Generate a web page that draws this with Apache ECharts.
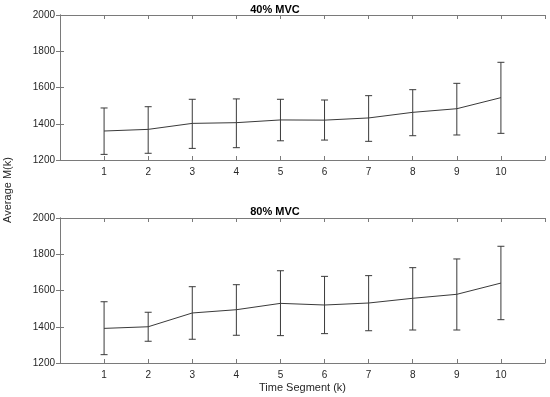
<!DOCTYPE html>
<html><head><meta charset="utf-8">
<script src="https://cdn.jsdelivr.net/npm/echarts@6/dist/echarts.min.js"></script>
<style>html,body{margin:0;padding:0;background:#fff}#c{width:550px;height:397px}</style>
</head><body><div id="c"></div>
<script>
var segments = [1,2,3,4,5,6,7,8,9,10];
var titles = ['40% MVC', '80% MVC'];
var mean40 = [1360,1369,1402,1406,1421,1420,1432,1463,1483,1544];
var upper40 = [1487,1494,1535,1537,1535,1531,1555,1588,1623,1739];
var lower40 = [1231,1237,1264,1268,1306,1310,1303,1334,1338,1347];
var mean80 = [1391,1400,1476,1494,1529,1520,1531,1557,1579,1641];
var upper80 = [1538,1480,1621,1632,1709,1678,1682,1726,1774,1844];
var lower80 = [1246,1320,1331,1353,1351,1362,1378,1382,1382,1439];
var yTicks = [1200,1400,1600,1800,2000];
var xLabel = 'Time Segment (k)';
var yLabel = 'Average M(k)';

var FONT = 'Liberation Sans, Arial, sans-serif';
var AX = '#7a7a7a';
var LINE = '#3a3a3a';
var chart = echarts.init(document.getElementById('c'), null, {renderer:'canvas'});

var grids = [
  {left:60, top:15, width:485, height:145},
  {left:60, top:218, width:485, height:145}
];
var xAxes = [], yAxes = [], series = [];
var means = [mean40, mean80], ups = [upper40, upper80], lows = [lower40, lower80];
grids.forEach(function(g, i){
  xAxes.push({gridIndex:i, type:'value', min:0, max:11, interval:1, position:'bottom',
    axisLine:{show:true, lineStyle:{color:AX, width:1}},
    axisTick:{show:true, inside:true, length:4, lineStyle:{color:AX}},
    axisLabel:{color:'#262626', fontFamily:FONT, fontSize:10, margin:7,
      formatter:function(v){ return (v>=1 && v<=10) ? String(v) : ''; }},
    splitLine:{show:false},
    name: i===1 ? xLabel : '', nameLocation:'middle', nameGap:19,
    nameTextStyle:{color:'#262626', fontFamily:FONT, fontSize:11}
  });
  xAxes.push({gridIndex:i, type:'value', min:0, max:11, interval:1, position:'top',
    axisLine:{show:true, lineStyle:{color:AX, width:1}},
    axisTick:{show:true, inside:true, length:4, lineStyle:{color:AX}},
    axisLabel:{show:false}, splitLine:{show:false}
  });
  yAxes.push({gridIndex:i, type:'value', min:yTicks[0], max:yTicks[yTicks.length-1], interval:200, position:'left',
    axisLine:{show:true, lineStyle:{color:AX, width:1}},
    axisTick:{show:true, inside:true, length:4, lineStyle:{color:AX}},
    axisLabel:{color:'#262626', fontFamily:FONT, fontSize:10, margin:5,
      formatter:function(v){ return String(v); }},
    splitLine:{show:false}
  });
  yAxes.push({gridIndex:i, type:'value', min:yTicks[0], max:yTicks[yTicks.length-1], interval:200, position:'right',
    axisLine:{show:true, lineStyle:{color:AX, width:1}},
    axisTick:{show:true, inside:true, length:4, lineStyle:{color:AX}},
    axisLabel:{show:false}, splitLine:{show:false}
  });
  var lineData = segments.map(function(s, k){ return [s, means[i][k]]; });
  var errData = segments.map(function(s, k){ return [s, lows[i][k], ups[i][k]]; });
  series.push({type:'line', xAxisIndex:2*i, yAxisIndex:2*i, data:lineData,
    symbol:'none', lineStyle:{color:LINE, width:1}, silent:true, animation:false});
  series.push({type:'custom', xAxisIndex:2*i, yAxisIndex:2*i, data:errData, silent:true, animation:false,
    renderItem:function(params, api){
      var x = api.value(0);
      var lo = api.coord([x, api.value(1)]);
      var hi = api.coord([x, api.value(2)]);
      var w = 3.5;
      var st = {stroke:LINE, lineWidth:1, fill:null};
      return {type:'group', children:[
        {type:'line', shape:{x1:lo[0], y1:lo[1], x2:hi[0], y2:hi[1]}, style:st},
        {type:'line', shape:{x1:lo[0]-w, y1:lo[1], x2:lo[0]+w, y2:lo[1]}, style:st},
        {type:'line', shape:{x1:hi[0]-w, y1:hi[1], x2:hi[0]+w, y2:hi[1]}, style:st}
      ]};
    }
  });
});

chart.setOption({
  animation:false,
  backgroundColor:'#fff',
  title:[
    {text:titles[0], left:'center', top:-1, textStyle:{fontFamily:FONT, fontSize:11, fontWeight:'bold', color:'#000'}},
    {text:titles[1], left:'center', top:201, textStyle:{fontFamily:FONT, fontSize:11, fontWeight:'bold', color:'#000'}}
  ],
  grid:grids,
  xAxis:xAxes,
  yAxis:yAxes,
  series:series,
  graphic:[{type:'text', rotation:Math.PI/2, x:2, y:190,
    style:{text:yLabel, font:'11px '+FONT, fill:'#262626', textAlign:'center', textVerticalAlign:'top'}}]
});
</script></body></html>
